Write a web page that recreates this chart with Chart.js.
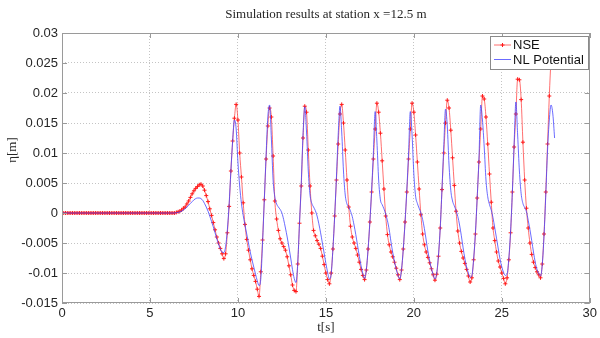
<!DOCTYPE html>
<html>
<head>
<meta charset="utf-8">
<script src="https://cdn.jsdelivr.net/npm/chart.js@4.4.1/dist/chart.umd.min.js"></script>
<style>
  html, body { margin: 0; background: #fff; }
</style>
</head>
<body>
<canvas id="c" width="600" height="338"></canvas>
<script>
const chartTitle = 'Simulation results at station x =12.5 m';
const timeStep = 0.1; // s, both series start at t = 0
const xTicks = [0, 5, 10, 15, 20, 25, 30];
const yTicks = [-0.015, -0.01, -0.005, 0, 0.005, 0.01, 0.015, 0.02, 0.025, 0.03];
const yTickLabels = ['-0.015', '-0.01', '-0.005', '0', '0.005', '0.01', '0.015', '0.02', '0.025', '0.03'];

// surface elevation in mm, one row per second
const nseEta = [
  0, 0, 0, 0, 0, 0, 0, 0, 0, 0,
  0, 0, 0, 0, 0, 0, 0, 0, 0, 0,
  0, 0, 0, 0, 0, 0, 0, 0, 0, 0,
  0, 0, 0, 0, 0, 0, 0, 0, 0, 0,
  0, 0, 0, 0, 0, 0, 0, 0, 0, 0,
  0, 0, 0, 0, 0, 0, 0, 0, 0, 0,
  0, 0, 0, 0, 0, 0.1, 0.2, 0.3, 0.5, 0.8,
  1.0, 1.5, 2.0, 2.6, 3.2, 3.7, 4.1, 4.4, 4.7, 4.8,
  4.5, 3.8, 2.9, 1.9, 0.7, -0.4, -1.6, -2.8, -4.0, -5.0,
  -5.9, -6.8, -7.6, -6.8, -3.3, 1.1, 7.0, 12.0, 15.8, 18.1,
  15.5, 10.0, 6.0, 1.7, -1.9, -4.4, -6.2, -7.8, -9.3, -10.4,
  -11.4, -12.7, -13.9, -9.8, -4.5, 2.2, 9.0, 14.5, 17.5, 16.0,
  9.5, 2.0, -1.0, -2.9, -4.3, -5.0, -5.6, -6.2, -7.3, -8.8,
  -10.3, -12.0, -12.9, -13.1, -8.5, -1.7, 4.5, 12.5, 17.8, 16.8,
  10.5, 4.5, 0.0, -2.9, -3.8, -4.6, -5.2, -5.9, -7.2, -8.6,
  -10.0, -11.1, -11.8, -10.0, -6.0, -0.5, 5.5, 11.5, 16.5, 18.1,
  15.0, 10.5, 5.5, 1.0, -2.2, -4.0, -5.0, -5.9, -7.0, -8.2,
  -9.4, -10.4, -11.1, -9.5, -6.0, -1.5, 3.5, 9.0, 14.0, 18.3,
  16.8, 13.3, 8.7, 4.0, -0.5, -3.6, -5.3, -6.5, -7.3, -8.2,
  -9.2, -10.3, -11.1, -9.5, -6.0, -1.5, 3.5, 9.0, 14.0, 18.3,
  16.8, 13.0, 8.5, 4.0, -0.3, -3.5, -5.3, -6.5, -7.4, -8.3,
  -9.3, -10.3, -11.2, -10.2, -7.2, -2.5, 3.9, 10.0, 15.0, 18.8,
  17.5, 13.8, 9.2, 4.6, 0.3, -3.0, -5.0, -6.4, -7.5, -8.4,
  -9.4, -10.5, -11.5, -10.8, -7.8, -3.5, 2.5, 8.5, 14.0, 19.5,
  19.0, 16.0, 11.5, 6.5, 1.8, -2.5, -4.6, -6.5, -8.0, -9.0,
  -10.0, -10.9, -11.8, -10.8, -7.8, -3.3, 3.5, 11.0, 16.5, 22.3,
  22.2, 18.9, 11.8, 5.5, 0.8, -2.5, -5.0, -6.9, -8.2, -9.1,
  -9.8, -10.3, -10.8, -8.5, -3.5, 3.5, 11.5, 19.5, 26.0
];

const nlPotentialEta = [
  0, 0, 0, 0, 0, 0, 0, 0, 0, 0,
  0, 0, 0, 0, 0, 0, 0, 0, 0, 0,
  0, 0, 0, 0, 0, 0, 0, 0, 0, 0,
  0, 0, 0, 0, 0, 0, 0, 0, 0, 0,
  0, 0, 0, 0, 0, 0, 0, 0, 0, 0,
  0, 0, 0, 0, 0, 0, 0, 0, 0, 0,
  0, 0, 0, 0, 0, 0.05, 0.1, 0.2, 0.3, 0.5,
  0.7, 1.0, 1.3, 1.6, 1.9, 2.2, 2.4, 2.5, 2.5, 2.4,
  2.1, 1.6, 1.0, 0.3, -0.5, -1.4, -2.3, -3.3, -4.3, -5.2,
  -6.0, -6.5, -6.6, -5.6, -2.8, 1.5, 7.0, 12.0, 15.5, 14.0,
  8.5, 4.5, 1.6, -0.4, -2.0, -3.5, -5.0, -6.5, -7.8, -9.0,
  -10.2, -11.3, -12.1, -11.0, -5.0, 2.2, 9.5, 16.0, 18.0, 12.5,
  5.5, 2.6, 1.5, 1.0, 0.6, 0.0, -1.1, -2.5, -4.0, -5.7,
  -7.5, -9.4, -10.9, -11.6, -8.3, -1.8, 5.0, 13.0, 17.7, 13.5,
  7.0, 3.0, 1.6, 1.0, 0.4, -0.5, -1.8, -3.3, -5.0, -6.7,
  -8.4, -9.9, -11.0, -10.2, -6.0, -0.5, 6.0, 13.0, 17.8, 13.5,
  7.0, 3.0, 1.5, 1.0, 0.3, -0.6, -2.0, -3.6, -5.4, -7.2,
  -8.8, -10.1, -10.9, -9.4, -6.0, -1.5, 3.8, 10.0, 16.9, 12.0,
  5.5, 2.2, 1.4, 0.7, -0.2, -1.3, -2.8, -4.8, -6.6, -8.1,
  -9.4, -10.4, -11.0, -9.4, -6.0, -1.5, 3.8, 10.0, 16.9, 13.0,
  6.5, 2.8, 1.6, 0.8, 0.0, -1.1, -2.6, -4.5, -6.4, -8.0,
  -9.3, -10.3, -11.0, -10.0, -7.0, -2.5, 4.0, 11.0, 17.3, 14.5,
  8.0, 3.8, 2.0, 1.2, 0.4, -0.6, -2.0, -3.8, -5.8, -7.6,
  -9.0, -10.0, -10.7, -10.4, -7.6, -3.3, 2.5, 9.0, 18.0, 15.5,
  11.0, 5.5, 2.7, 1.4, 0.5, -0.8, -2.5, -4.2, -6.0, -7.7,
  -9.0, -9.9, -10.4, -10.2, -7.5, -3.0, 3.5, 11.5, 18.5, 13.0,
  7.0, 3.2, 1.6, 0.9, 0.2, -1.2, -2.8, -4.6, -6.5, -8.2,
  -9.4, -10.1, -10.5, -8.6, -3.8, 3.0, 10.5, 15.5, 18.0, 16.5,
  12.5
];

const toPoints = arr => arr.map((v, i) => ({ x: +(i * timeStep).toFixed(1), y: v / 1000 }));

const AXIS_GREY = '#9a9a9a';
const TEXT = '#262626';

// matlab look: title over plot area, rotated ylabel, boxed axes with inward ticks, legend inside
const matlabFrame = {
  id: 'matlabFrame',
  afterDraw(chart) {
    const { ctx, chartArea: a, scales: { x, y } } = chart;
    ctx.save();

    ctx.fillStyle = TEXT;
    ctx.font = '13px "Liberation Serif"';
    ctx.textAlign = 'center';
    ctx.textBaseline = 'middle';
    ctx.fillText(chartTitle, (a.left + a.right) / 2, 15);

    ctx.save();
    ctx.translate(13, 150);
    ctx.rotate(-Math.PI / 2);
    ctx.fillText('η[m]', 0, 0);
    ctx.restore();

    ctx.strokeStyle = AXIS_GREY;
    ctx.lineWidth = 1;
    ctx.strokeRect(Math.round(a.left) + 0.5, Math.round(a.top) + 0.5,
      Math.round(a.width) - 1, Math.round(a.height) - 1);
    ctx.beginPath();
    xTicks.forEach(v => {
      const px = Math.round(x.getPixelForValue(v)) + 0.5;
      ctx.moveTo(px, a.bottom); ctx.lineTo(px, a.bottom - 5);
      ctx.moveTo(px, a.top); ctx.lineTo(px, a.top + 5);
    });
    yTicks.forEach(v => {
      const py = Math.round(y.getPixelForValue(v)) + 0.5;
      ctx.moveTo(a.left, py); ctx.lineTo(a.left + 5, py);
      ctx.moveTo(a.right, py); ctx.lineTo(a.right - 5, py);
    });
    ctx.stroke();

    // legend box
    const bx = 490, by = 36, bw = 98, bh = 33;
    ctx.fillStyle = '#fff';
    ctx.fillRect(bx, by, bw, bh);
    ctx.strokeStyle = '#8a8a8a';
    ctx.strokeRect(bx + 0.5, by + 0.5, bw, bh);
    ctx.font = '13px "Liberation Sans"';
    ctx.textAlign = 'left';
    chart.data.datasets.forEach((ds, i) => {
      const ly = by + 9 + i * 14.5;
      ctx.strokeStyle = ds.borderColor;
      ctx.beginPath();
      ctx.moveTo(bx + 4, ly); ctx.lineTo(bx + 21, ly);
      ctx.stroke();
      if (ds.pointRadius) {
        ctx.strokeStyle = ds.pointBorderColor;
        ctx.beginPath();
        ctx.moveTo(bx + 12.5, ly - 2); ctx.lineTo(bx + 12.5, ly + 2);
        ctx.moveTo(bx + 10.5, ly); ctx.lineTo(bx + 14.5, ly);
        ctx.stroke();
      }
      ctx.fillStyle = '#111';
      ctx.fillText(ds.label, bx + 23, ly + 0.5);
    });
    ctx.restore();
  }
};

const tickFont = { family: 'Liberation Sans', size: 13 };

new Chart(document.getElementById('c'), {
  type: 'line',
  data: {
    datasets: [
      {
        label: 'NSE', data: toPoints(nseEta), order: 1,
        borderColor: 'rgba(255,50,50,0.7)', borderWidth: 1,
        pointStyle: 'cross', pointRadius: 2, pointBorderColor: '#ff1a1a', pointBorderWidth: 1,
        cubicInterpolationMode: 'monotone'
      },
      {
        label: 'NL Potential', data: toPoints(nlPotentialEta), order: 0,
        borderColor: 'rgba(70,70,255,0.8)', borderWidth: 1, pointRadius: 0,
        cubicInterpolationMode: 'monotone'
      }
    ]
  },
  options: {
    responsive: false,
    animation: false,
    layout: { padding: { top: 33, right: 9, bottom: 0, left: 0 } },
    plugins: { legend: { display: false }, tooltip: { enabled: false }, title: { display: false } },
    scales: {
      x: {
        type: 'linear', min: 0, max: 30,
        afterBuildTicks: s => { s.ticks = xTicks.map(v => ({ value: v })); },
        afterFit: s => { s.height = 35; },
        grid: { color: '#c4c4c4', drawTicks: false },
        border: { display: false, dash: [1, 2] },
        ticks: { padding: 3, color: TEXT, font: tickFont, maxRotation: 0, autoSkip: false, callback: v => String(v) },
        title: { display: true, text: 't[s]', color: TEXT, font: { family: 'Liberation Serif', size: 13 }, padding: { top: 0, bottom: 3 } }
      },
      y: {
        type: 'linear', min: -0.015, max: 0.03,
        afterBuildTicks: s => { s.ticks = yTicks.map(v => ({ value: v })); },
        afterFit: s => { s.width = 62; },
        grid: { color: '#c4c4c4', drawTicks: false },
        border: { display: false, dash: [1, 2] },
        ticks: { padding: 4, color: TEXT, font: tickFont, callback: v => yTickLabels[yTicks.indexOf(v)] }
      }
    }
  },
  plugins: [matlabFrame]
});
</script>
</body>
</html>
